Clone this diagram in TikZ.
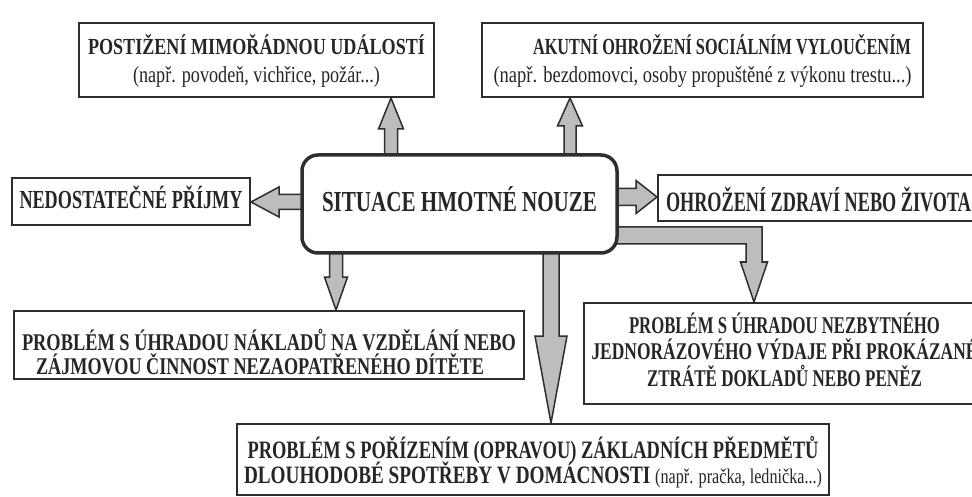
\documentclass[tikz,border=0pt]{standalone}
\usepackage{fontspec}
\setmainfont{Liberation Serif}
\usetikzlibrary{calc}
\pgfdeclarelayer{background}
\pgfsetlayers{background,main}
\definecolor{ink}{HTML}{262626}
\definecolor{frame}{HTML}{2E2E2E}
\definecolor{arrfill}{HTML}{BDBDBD}
\newsavebox\fitbox
\newcommand\fitw[2]{\sbox\fitbox{#2}\pgfmathsetmacro\fitsc{#1/\wd\fitbox}\scalebox{\fitsc}[1]{\usebox\fitbox}}
\newcommand\topstrut[1]{\rule{0pt}{#1}}
\newcommand\botstrut[1]{\rule[-#1]{0pt}{#1}}
\lineskiplimit=-100pt
% vertical block arrow: start, end, half shaft, half head, head length
\newcommand\varrow[5]{%
  \path[barrow] let \p1=(#1), \p2=(#2), \n1={ifthenelse(\y1>\y2,1,-1)} in
  (\x1-#3pt,{\y1+(\n1)*3pt}) -- (\x1-#3pt,{\y2+(\n1)*#5pt}) -- (\x1-#4pt,{\y2+(\n1)*#5pt})
  -- (\x1,\y2) -- (\x1+#4pt,{\y2+(\n1)*#5pt}) -- (\x1+#3pt,{\y2+(\n1)*#5pt})
  -- (\x1+#3pt,{\y1+(\n1)*3pt}) -- cycle;}
% horizontal block arrow
\newcommand\harrow[5]{%
  \path[barrow] let \p1=(#1), \p2=(#2), \n1={ifthenelse(\x1>\x2,1,-1)} in
  ({\x1+(\n1)*3pt},\y1-#3pt) -- ({\x2+(\n1)*#5pt},\y1-#3pt) -- ({\x2+(\n1)*#5pt},\y1-#4pt)
  -- (\x2,\y1) -- ({\x2+(\n1)*#5pt},\y1+#4pt) -- ({\x2+(\n1)*#5pt},\y1+#3pt)
  -- ({\x1+(\n1)*3pt},\y1+#3pt) -- cycle;}
\tikzset{
  box/.style={draw=frame, line width=2pt, fill=white, inner sep=0pt, align=center, text=ink},
  mainbox/.style={box, line width=3.5pt, rounded corners=16pt},
  barrow/.style={fill=arrfill, draw=frame, line width=1.5pt, line join=miter},
}
\begin{document}
\begin{tikzpicture}[x=1pt,y=-1pt]
\useasboundingbox (0,0) rectangle (972,497);
\clip (0,0) rectangle (972,497);

\node[box, minimum width=355pt, minimum height=74pt, font=\fontsize{23}{28}\selectfont] (top1) at (256.5,60)
  {\topstrut{26pt}\fitw{337pt}{\bfseries POSTIŽENÍ MIMOŘÁDNOU UDÁLOSTÍ}\\\fitw{247pt}{(např. povodeň, vichřice, požár...)}\botstrut{8pt}};

\node[box, minimum width=441pt, minimum height=74pt, font=\fontsize{23}{28}\selectfont] (top2) at (702.5,60)
  {\topstrut{26pt}\hspace*{39pt}\fitw{378pt}{\bfseries AKUTNÍ OHROŽENÍ SOCIÁLNÍM VYLOUČENÍM}\\\fitw{418pt}{(např. bezdomovci, osoby propuštěné z výkonu trestu...)}\botstrut{8pt}};

\node[mainbox, minimum width=315pt, minimum height=98pt, font=\fontsize{29}{32}\selectfont\bfseries] (sit) at (459.5,204)
  {\topstrut{28pt}\fitw{275pt}{SITUACE HMOTNÉ NOUZE}\botstrut{12pt}};

\node[box, minimum width=238pt, minimum height=47pt, font=\fontsize{26}{28}\selectfont\bfseries] (nL) at (131,201.5)
  {\topstrut{25pt}\fitw{223pt}{NEDOSTATEČNÉ PŘÍJMY}\botstrut{10pt}};

\node[box, minimum width=321pt, minimum height=46pt, font=\fontsize{28}{30}\selectfont\bfseries] (nR) at (818.5,198)
  {\topstrut{36pt}\fitw{305pt}{OHROŽENÍ ZDRAVÍ NEBO ŽIVOTA}\botstrut{8pt}};

\node[box, minimum width=510pt, minimum height=68pt, font=\fontsize{24}{24}\selectfont\bfseries] (bl) at (269,345)
  {\topstrut{37pt}\fitw{494pt}{PROBLÉM S ÚHRADOU NÁKLADŮ NA VZDĚLÁNÍ NEBO}\\\fitw{448pt}{ZÁJMOVOU ČINNOST NEZAOPATŘENÉHO DÍTĚTE}\hspace*{18pt}\botstrut{3pt}};

\node[box, minimum width=401pt, minimum height=101pt, font=\fontsize{24}{26.5}\selectfont\bfseries] (br) at (784.5,353.5)
  {\topstrut{24pt}\fitw{311pt}{PROBLÉM S ÚHRADOU NEZBYTNÉHO}\\\fitw{386pt}{JEDNORÁZOVÉHO VÝDAJE PŘI PROKÁZANÉ}\\\fitw{275pt}{ZTRÁTĚ DOKLADŮ NEBO PENĚZ}\botstrut{12pt}};

\node[box, minimum width=592pt, minimum height=71pt, font=\fontsize{25}{25}\selectfont] (b) at (533,459.5)
  {\topstrut{30pt}\fitw{571pt}{\bfseries PROBLÉM S POŘÍZENÍM (OPRAVOU) ZÁKLADNÍCH PŘEDMĚTŮ}\\\fitw{578pt}{{\bfseries DLOUHODOBÉ SPOTŘEBY V DOMÁCNOSTI} {\fontsize{21}{25}\selectfont (např. pračka, lednička...)}}\botstrut{8pt}};

\begin{pgfonlayer}{background}
\fill[white] (0,0) rectangle (972,497);
\varrow{391,0 |- sit.north}{391,0 |- top1.south}{6.5}{12.5}{31}
\varrow{570,0 |- sit.north}{570,0 |- top2.south}{6}{12.5}{28}
\harrow{sit.west |- 0,202}{nL.east}{7.5}{15}{28}
\harrow{sit.east |- 0,197}{nR.west}{8.5}{16.5}{21}
\varrow{336,0 |- sit.south}{336,0 |- bl.north}{6.5}{11.5}{33}
\varrow{551,0 |- sit.south}{551,0 |- b.north}{8}{16}{87}
\path[barrow] let \p1=(sit.east |- 0,235.5), \p2=(754,0 |- br.north) in
  (\x1-6pt,\y1+8.5pt) -- (\x2+8pt,\y1+8.5pt) -- (\x2+8pt,\y2+40pt) -- (\x2+13.5pt,\y2+40pt)
  -- (\x2,\y2) -- (\x2-13.5pt,\y2+40pt) -- (\x2-8pt,\y2+40pt) -- (\x2-8pt,\y1-8.5pt)
  -- (\x1-6pt,\y1-8.5pt) -- cycle;
\end{pgfonlayer}
\end{tikzpicture}
\end{document}
